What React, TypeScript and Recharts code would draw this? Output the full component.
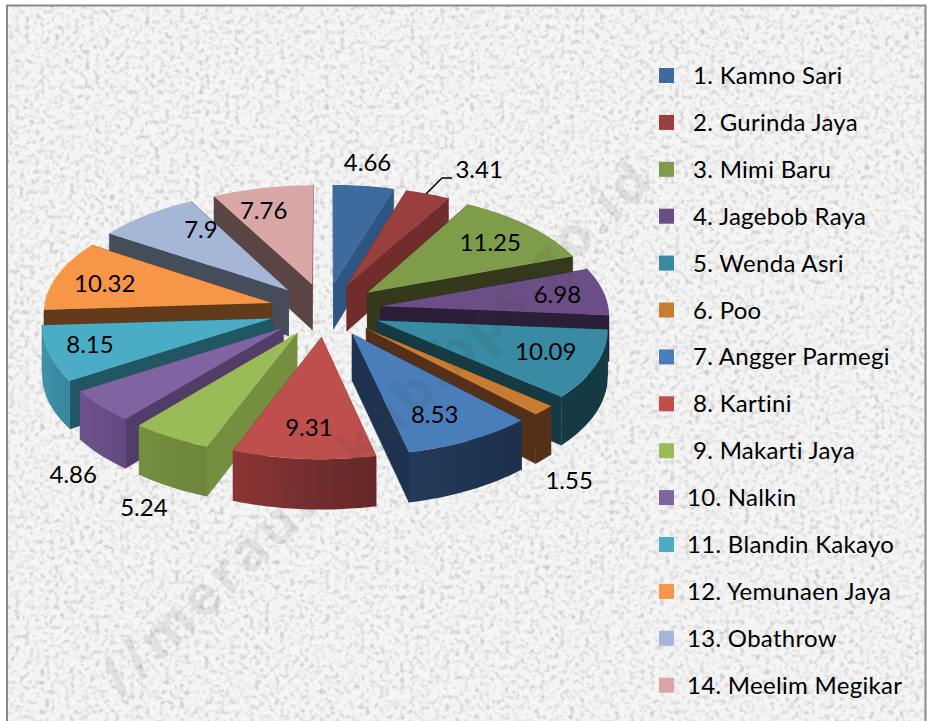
import { Legend, Pie, PieChart } from "recharts";

const names = ["1. Kamno Sari", "2. Gurinda Jaya", "3. Mimi Baru", "4. Jagebob Raya", "5. Wenda Asri", "6. Poo", "7. Angger Parmegi", "8. Kartini", "9. Makarti Jaya", "10. Nalkin", "11. Blandin Kakayo", "12. Yemunaen Jaya", "13. Obathrow", "14. Meelim Megikar"];
const values = [4.66, 3.41, 11.25, 6.98, 10.09, 1.55, 8.53, 9.31, 5.24, 4.86, 8.15, 10.32, 7.9, 7.76];
const topColors = ["#3e6a9e", "#993f3d", "#7e9c4a", "#6a4e85", "#388ba3", "#c87c32", "#4a7ebb", "#bf4f4d", "#9bbb59", "#8064a2", "#4bacc6", "#f79646", "#a5b6d7", "#d9a7a6"];
const wallColors = ["#2f5582", "#712c2c", "#35391b", "#2b1e38", "#153a44", "#54301a", "#1e3350", "#7a2e2d", "#758e40", "#513d68", "#215763", "#633a1a", "#454c5a", "#5a4444"];
const rimStart = ["#2f5582", "#712c2c", "#35391b", "#2b1e38", "#153a44", "#54301a", "#233a5a", "#8a3534", "#758e40", "#6f548c", "#3f93ab", "#633a1a", "#454c5a", "#5a4444"];
const rimEnd = ["#2f5582", "#712c2c", "#35391b", "#2b1e38", "#153a44", "#54301a", "#1c304c", "#642727", "#6d853b", "#604880", "#36859c", "#633a1a", "#454c5a", "#5a4444"];
// label shift away from the default spot inside each slice
const labelShift = [[12, -51], [73, -50], [5, -3], [16, -2], [12, -2], [77, 93], [-1, 4], [0, 4], [-64, 100], [-80, 90], [-22, 0], [-12, -1], [16, -7], [-12, -4]];

const rows = names.map((name, i) => ({ name, value: values[i], fill: topColors[i] }));
// same slices walked the other way, so the left half paints back to front
const rowsReversed = [...rows].reverse();

const CX = 325.5;
const CY = 310;
const RX = 228;
const SQUASH = 0.48;
const EXPLODE = 0.245;
const PERSPECTIVE = 0.07;
const DEPTH = 46;
const RAD = Math.PI / 180;

// fake 3d: flat pie geometry from Recharts, tipped back with a little perspective
function project(deg: number, mid: number, f: number, rx: number, cx: number, cy: number, drop = 0) {
  const gx = f * Math.cos(deg * RAD) + EXPLODE * Math.cos(mid * RAD);
  const gy = -f * Math.sin(deg * RAD) - EXPLODE * Math.sin(mid * RAD);
  const s = 1 / (1 - PERSPECTIVE * gy);
  return [cx + rx * gx * s, cy + rx * SQUASH * gy * s + drop * s];
}

function arcAngles(a: number, b: number) {
  const n = Math.max(2, Math.ceil(Math.abs(b - a) / 2));
  return Array.from({ length: n + 1 }, (_, i) => a + ((b - a) * i) / n);
}

const toPath = (pts: number[][]) => "M" + pts.map((p) => `${p[0].toFixed(1)},${p[1].toFixed(1)}`).join("L") + "Z";

function Slice3D(props: any) {
  const { cx, cy, outerRadius: r, startAngle, endAngle, fill, name } = props;
  const i = names.indexOf(name);
  const mid = (startAngle + endAngle) / 2;
  const pt = (deg: number, f: number, drop = 0) => project(deg, mid, f, r, cx, cy, drop);
  const side = (deg: number) => [pt(deg, 0), pt(deg, 1), pt(deg, 1, DEPTH), pt(deg, 0, DEPTH)];
  const arc = arcAngles(startAngle, endAngle);
  const front = arc.filter((d) => Math.sin(d * RAD) < 0);
  const rim = [...front.map((d) => pt(d, 1)), ...front.slice().reverse().map((d) => pt(d, 1, DEPTH))];
  const top = [pt(mid, 0), ...arc.map((d) => pt(d, 1))];
  const gradId = `rim-${i}`;
  return (
    <g>
      <defs>
        <linearGradient id={gradId} x1="0" y1="0" x2="1" y2="0">
          <stop offset="0" stopColor={rimStart[i]} />
          <stop offset="1" stopColor={rimEnd[i]} />
        </linearGradient>
      </defs>
      <path d={toPath(side(startAngle))} fill={wallColors[i]} stroke={wallColors[i]} strokeWidth={0.5} />
      <path d={toPath(side(endAngle))} fill={wallColors[i]} stroke={wallColors[i]} strokeWidth={0.5} />
      {front.length > 1 && <path d={toPath(rim)} fill={`url(#${gradId})`} />}
      <path d={toPath(top)} fill={fill} />
    </g>
  );
}

// right half (slices 1-7) comes from one pie, left half and the front slice from the other
const RightSlice = (props: any) => (names.indexOf(props.name) < 7 ? <Slice3D {...props} /> : <g />);
const LeftSlice = (props: any) => (names.indexOf(props.name) >= 7 ? <Slice3D {...props} /> : <g />);

function SliceLabel(props: any) {
  const { cx, cy, outerRadius: r, midAngle, index, value } = props;
  const [x, y] = project(midAngle, midAngle, 0.72, r, cx, cy);
  const [dx, dy] = labelShift[index];
  return (
    <g>
      {index === 1 && <path d="M426,194L442,178L452,178" fill="none" stroke="#000" strokeWidth={1.5} />}
      <text x={x + dx} y={y + dy} textAnchor="middle" dominantBaseline="central" fontFamily="Lato" fontSize={24} fill="#000">
        {value}
      </text>
    </g>
  );
}

function LegendList() {
  return (
    <svg width={929} height={721} style={{ display: "block" }}>
      {rows.map((row, i) => (
        <g key={row.name}>
          <rect x={659} y={68 + i * 46.9} width={15} height={15} fill={row.fill} />
          <text x={i < 9 ? 693 : 687} y={74.5 + i * 46.9} dominantBaseline="central" fontFamily="Lato" fontSize={24} letterSpacing={0.3} fill="#000">
            {row.name}
          </text>
        </g>
      ))}
    </svg>
  );
}

export default function App() {
  return (
    <div style={{ position: "absolute", left: 0, top: 0, width: 929, height: 721, overflow: "hidden", background: "#fff" }}>
      <svg width={929} height={721} style={{ position: "absolute", left: 0, top: 0 }}>
        <defs>
          <filter id="paper" x="0" y="0" width="100%" height="100%">
            <feTurbulence type="fractalNoise" baseFrequency="0.2" numOctaves={2} seed={7} />
            <feColorMatrix type="matrix" values="0 0 0 0 0.55  0 0 0 0 0.55  0 0 0 0 0.55  1.5 1.5 0 0 -1.43" />
            <feGaussianBlur stdDeviation={0.7} />
          </filter>
        </defs>
        <rect x={7} y={5} width={918} height={716} fill="#f5f5f5" />
        <rect x={7} y={5} width={918} height={716} filter="url(#paper)" />
        <path d="M7,721V5.5H925.5V721" fill="none" stroke="#8a8a8a" strokeWidth={2} />
      </svg>
      <div style={{ position: "absolute", left: 0, top: 0 }}>
        <PieChart width={929} height={721} margin={{ top: 0, right: 0, bottom: 0, left: 0 }}>
          <Pie data={rows} dataKey="value" nameKey="name" cx={CX} cy={CY} outerRadius={RX} startAngle={90} endAngle={-270} legendType="none" stroke="none" shape={RightSlice} isAnimationActive={false} />
          <Pie data={rowsReversed} dataKey="value" nameKey="name" cx={CX} cy={CY} outerRadius={RX} startAngle={90} endAngle={450} legendType="none" stroke="none" shape={LeftSlice} isAnimationActive={false} />
          <Pie data={rows} dataKey="value" nameKey="name" cx={CX} cy={CY} outerRadius={RX} startAngle={90} endAngle={-270} stroke="none" shape={() => <g />} label={SliceLabel} labelLine={false} isAnimationActive={false} />
          <Legend content={LegendList} wrapperStyle={{ position: "absolute", left: 0, top: 0, width: 929, height: 721 }} />
        </PieChart>
      </div>
      <svg width={929} height={721} style={{ position: "absolute", left: 0, top: 0, pointerEvents: "none" }}>
        <text transform="translate(122,700) rotate(-44)" fontFamily="Open Sans" fontWeight={700} fontSize={56} letterSpacing={3.5} fill="#444" fillOpacity={0.1}>
          //meraukekab.bps.go.id
        </text>
      </svg>
    </div>
  );
}
